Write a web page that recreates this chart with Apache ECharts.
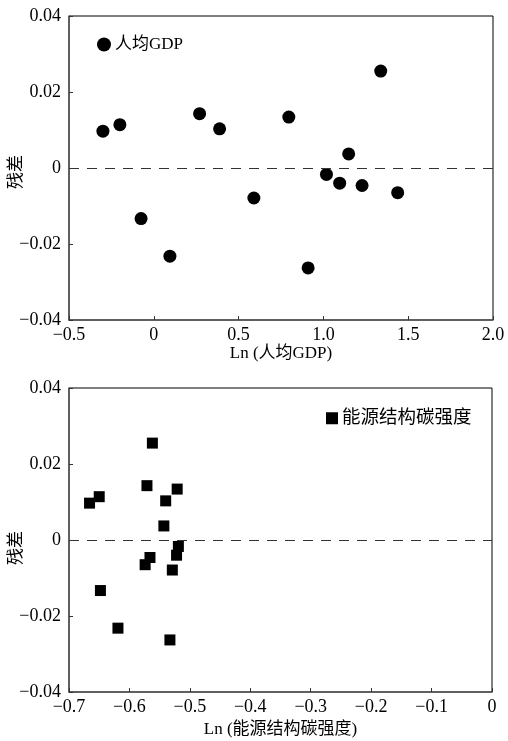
<!DOCTYPE html>
<html><head><meta charset="utf-8">
<script src="https://cdn.jsdelivr.net/npm/echarts@6/dist/echarts.min.js"></script>
<style>html,body{margin:0;padding:0;background:#fff}#c{width:508px;height:741px}</style>
</head><body><div id="c"></div>
<script>
// residuals (shared by both panels)
const residuals = [0.0097, 0.0114, -0.0133, -0.0232, 0.0143, 0.0103, -0.0079, 0.0134, 0.0255, 0.0037, -0.0017, -0.0040, -0.0046, -0.0065, -0.0263];
// Ln(per-capita GDP)
const lnGDP = [-0.30, -0.20, -0.075, 0.095, 0.27, 0.388, 0.59, 0.796, 1.338, 1.149, 1.018, 1.096, 1.228, 1.438, 0.91];
// Ln(energy-structure carbon intensity)
const lnCarbon = [-0.666, -0.650, -0.648, -0.619, -0.571, -0.540, -0.529, -0.521, -0.562, -0.543, -0.519, -0.522, -0.566, -0.574, -0.533];

const topXTicks = ['−0.5', '0', '0.5', '1.0', '1.5', '2.0'];
const botXTicks = ['−0.7', '−0.6', '−0.5', '−0.4', '−0.3', '−0.2', '−0.1', '0'];
const yTicks = ['−0.04', '−0.02', '0', '0.02', '0.04'];

const seriesNames = ['人均GDP', '能源结构碳强度'];
const xNames = ['Ln (人均GDP)', 'Ln (能源结构碳强度)'];
const yName = '残差';

const FONT = 'Liberation Serif, Noto Sans CJK SC, serif';
const txt = {color: '#000', fontFamily: FONT, fontSize: 18};

function pair(xs) { return xs.map((x, i) => [x, residuals[i]]); }

function xAxis(idx, min, max, interval, labels, name, gap) {
  return {
    gridIndex: idx, type: 'value', min: min, max: max, interval: interval,
    name: name, nameLocation: 'middle', nameGap: gap,
    nameTextStyle: Object.assign({}, txt, {fontSize: 17}),
    axisLine: {show: true, onZero: false, lineStyle: {color: '#555', width: 1.5}},
    axisTick: {show: true, inside: true, length: 4, lineStyle: {color: '#333'}},
    axisLabel: Object.assign({}, txt, {margin: 6, formatter: (v) => labels[Math.round((v - min) / interval)]}),
    splitLine: {show: false}
  };
}
function yAxis(idx, shift) {
  return {
    gridIndex: idx, type: 'value', min: -0.04, max: 0.04, interval: 0.02,
    name: yName, nameLocation: 'middle', nameGap: 44, nameRotate: 90, nameMoveOverlap: false,
    nameTextStyle: Object.assign({}, txt, {fontSize: 17, padding: [0, shift, 0, 0]}),
    axisLine: {show: true, onZero: false, lineStyle: {color: '#555', width: 1.5}},
    axisTick: {show: true, inside: true, length: 4, lineStyle: {color: '#333'}},
    axisLabel: Object.assign({}, txt, {margin: 8, formatter: (v) => yTicks[Math.round((v + 0.04) / 0.02)]}),
    splitLine: {show: false}
  };
}

const zeroLine = {
  silent: true, symbol: 'none', label: {show: false},
  lineStyle: {color: '#333', type: [10, 8], width: 1},
  data: [{yAxis: 0}]
};

const option = {
  animation: false,
  backgroundColor: '#fff',
  grid: [
    {left: 69, top: 16, width: 424, height: 304, show: true, borderColor: '#000', borderWidth: 1,
     containLabel: false, outerBoundsMode: 'none'},
    {left: 69, top: 388, width: 423, height: 304, show: true, borderColor: '#000', borderWidth: 1,
     containLabel: false, outerBoundsMode: 'none'}
  ],
  xAxis: [
    xAxis(0, -0.5, 2.0, 0.5, topXTicks, xNames[0], 24),
    xAxis(1, -0.7, 0, 0.1, botXTicks, xNames[1], 29)
  ],
  yAxis: [yAxis(0, 8), yAxis(1, 16)],
  legend: [
    {data: [seriesNames[0]], left: 92, top: 31, itemWidth: 14, itemHeight: 14, itemGap: 4,
     textStyle: Object.assign({}, txt, {fontSize: 17, padding: [0, 0, 0, -1]})},
    {data: [seriesNames[1]], left: 321, top: 404, itemWidth: 12, itemHeight: 12,
     textStyle: Object.assign({}, txt, {fontSize: 18.5, padding: [0, 0, 0, -1]})}
  ],
  series: [
    {name: seriesNames[0], type: 'scatter', xAxisIndex: 0, yAxisIndex: 0, symbol: 'circle', symbolSize: 13,
     itemStyle: {color: '#000', opacity: 1}, data: pair(lnGDP), markLine: zeroLine},
    {name: seriesNames[1], type: 'scatter', xAxisIndex: 1, yAxisIndex: 1, symbol: 'rect', symbolSize: 11,
     itemStyle: {color: '#000', opacity: 1}, data: pair(lnCarbon), markLine: zeroLine}
  ]
};
const chart = echarts.init(document.getElementById('c'), null, {renderer: 'canvas'});
chart.setOption(option);
</script></body></html>
